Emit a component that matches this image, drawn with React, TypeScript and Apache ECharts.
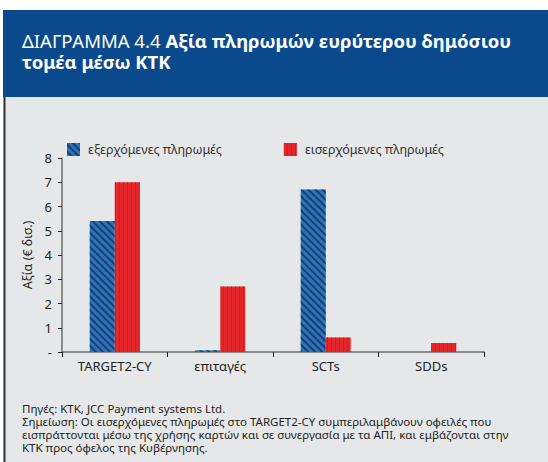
import React, { useEffect, useRef } from "react";
import * as echarts from "echarts";

const categories = ["TARGET2-CY", "επιταγές", "SCTs", "SDDs"];
const outgoing = [5.4, 0.07, 6.7, 0];
const incoming = [7.0, 2.7, 0.6, 0.37];
const seriesNames = ["εξερχόμενες πληρωμές", "εισερχόμενες πληρωμές"];
const yMin = 0;
const yMax = 8;
const yInterval = 1;
const yAxisName = "Αξία (€ δισ.)";
const titlePrefix = "ΔΙΑΓΡΑΜΜΑ 4.4";
const titleLine1 = "Αξία πληρωμών ευρύτερου δημόσιου";
const titleLine2 = "τομέα μέσω ΚΤΚ";
const footerLines = [
  "Πηγές: ΚΤΚ, JCC Payment systems Ltd.",
  "Σημείωση: Οι εισερχόμενες πληρωμές στο TARGET2-CY συμπεριλαμβάνουν οφειλές που",
  "εισπράττονται μέσω της χρήσης καρτών και σε συνεργασία με τα ΑΠΙ, και εμβάζονται στην",
  "ΚΤΚ προς όφελος της Κυβέρνησης.",
];

const FONT = "'Noto Sans', 'Open Sans', sans-serif";

function measure(text: string, fontSize: number, fontWeight: string) {
  try {
    const t = new (echarts.graphic as any).Text({
      style: { text, fontSize, fontFamily: FONT, fontWeight },
    });
    return t.getBoundingRect().width;
  } catch (e) {
    return text.length * fontSize * 0.6;
  }
}

export default function App() {
  const ref = useRef<HTMLDivElement>(null);
  useEffect(() => {
    if (!ref.current) return;
    const chart = echarts.init(ref.current, null, { renderer: "svg" });
    const blue = "#2a74bd";
    const red = "#e4262a";
    const titleSize = 18.5;
    const prefixW = measure(titlePrefix, titleSize, "normal");
    chart.setOption({
      animation: false,
      backgroundColor: "#ffffff",
      textStyle: { fontFamily: FONT },
      graphic: [
        { type: "rect", z: -10, shape: { x: 3, y: 10, width: 545, height: 87 }, style: { fill: "#0a4a8c" } },
        { type: "rect", z: -10, shape: { x: 3, y: 97, width: 545, height: 365 }, style: { fill: "#e6e7e8" } },
        { type: "line", z: -9, shape: { x1: 4.5, y1: 97, x2: 4.5, y2: 462 }, style: { stroke: "#333333", lineWidth: 2 } },
        {
          type: "text",
          x: 22,
          y: 40,
          style: { text: titlePrefix, fill: "#ffffff", fontSize: titleSize, fontFamily: FONT, fontWeight: "normal", verticalAlign: "middle" },
        },
        {
          type: "text",
          x: 22 + prefixW + 5,
          y: 40,
          style: { text: titleLine1, fill: "#ffffff", fontSize: titleSize, fontFamily: FONT, fontWeight: "bold", verticalAlign: "middle" },
        },
        {
          type: "text",
          x: 22,
          y: 61,
          style: { text: titleLine2, fill: "#ffffff", fontSize: titleSize, fontFamily: FONT, fontWeight: "bold", verticalAlign: "middle" },
        },
        ...footerLines.map((t, i) => ({
          type: "text",
          x: 22,
          y: 408 + i * 13.3,
          style: {
            text: t,
            fill: "#231f20",
            fontSize: 11.5,
            lineHeight: 12.5,
            fontFamily: FONT,
            verticalAlign: "middle",
          },
        })),
      ],
      legend: {
        data: seriesNames,
        top: 138,
        left: 62,
        itemWidth: 13,
        itemHeight: 13,
        itemGap: 62,
        icon: "rect",
        textStyle: { fontSize: 12.5, color: "#333333", fontFamily: FONT, padding: [0, 0, 0, 3] },
      },
      grid: { left: 62, right: 64, top: 158, bottom: 110 },
      xAxis: {
        type: "category",
        data: categories,
        axisLine: { lineStyle: { color: "#6d6e71", width: 1.5 } },
        axisTick: { show: true, length: 5, lineStyle: { color: "#231f20" } },
        axisLabel: { fontSize: 13, color: "#231f20", margin: 7, fontFamily: FONT },
      },
      yAxis: {
        type: "value",
        min: yMin,
        max: yMax,
        interval: yInterval,
        name: yAxisName,
        nameLocation: "middle",
        nameGap: 27,
        nameTextStyle: { fontSize: 12.5, color: "#231f20", fontFamily: FONT },
        splitLine: { show: false },
        axisLine: { show: true, lineStyle: { color: "#6d6e71", width: 1.5 } },
        axisTick: { show: true, length: 4, lineStyle: { color: "#231f20" } },
        axisLabel: {
          fontSize: 13,
          color: "#231f20",
          margin: 10,
          fontFamily: FONT,
          formatter: (v: number) => (v === 0 ? "-" : String(v)),
        },
      },
      series: [
        {
          name: seriesNames[0],
          type: "bar",
          data: outgoing,
          barWidth: 25,
          barGap: "0%",
          itemStyle: {
            color: blue,
            decal: {
              symbol: "rect",
              symbolSize: 1,
              dashArrayX: [1, 0],
              dashArrayY: [1.5, 2.5],
              rotation: Math.PI / 4,
              color: "#1b3e6e",
            },
          },
        },
        {
          name: seriesNames[1],
          type: "bar",
          data: incoming,
          barWidth: 25,
          barGap: "0%",
          itemStyle: {
            color: red,
            decal: {
              symbol: "rect",
              symbolSize: 1,
              dashArrayX: [1, 0],
              dashArrayY: [1, 3],
              rotation: Math.PI / 2,
              color: "#c81f25",
            },
          },
        },
      ],
    });
    return () => chart.dispose();
  }, []);
  return (
    <div
      ref={ref}
      style={{ position: "absolute", left: 0, top: 0, width: 548, height: 462 }}
    />
  );
}
